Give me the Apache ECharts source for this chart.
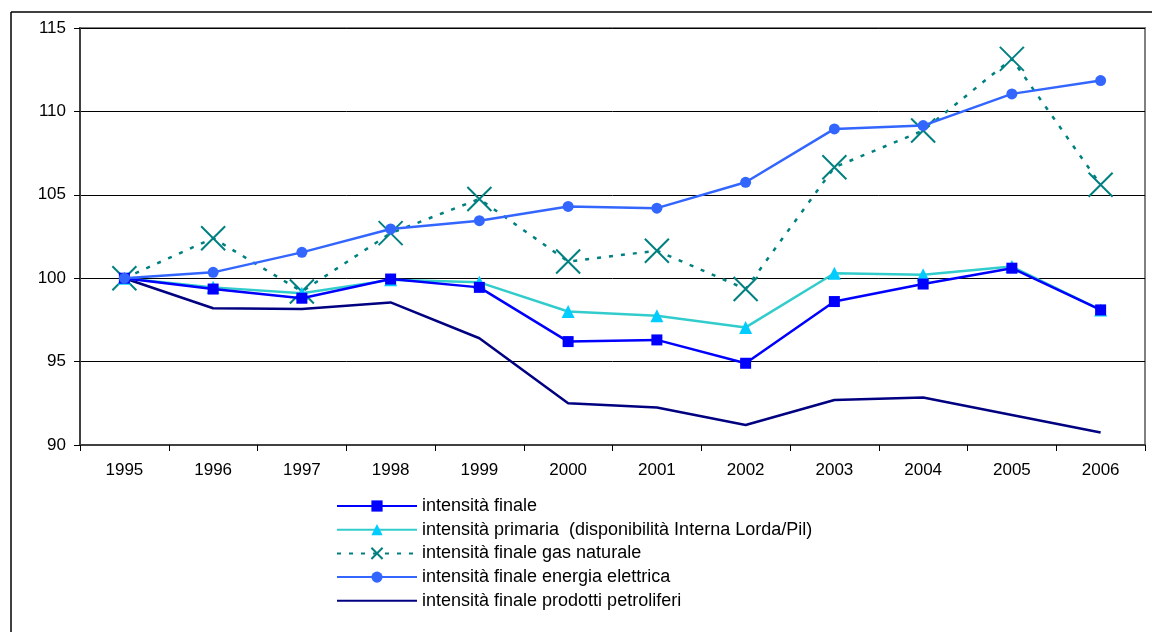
<!DOCTYPE html>
<html>
<head>
<meta charset="utf-8">
<script src="https://cdn.jsdelivr.net/npm/echarts@6/dist/echarts.min.js"></script>
<style>
  html, body { margin: 0; padding: 0; background: #fff; }
  #chart { width: 1152px; height: 632px; }
</style>
</head>
<body>
<div id="chart"></div>
<script>
// Years on the category axis
const years = ['1995', '1996', '1997', '1998', '1999', '2000', '2001', '2002', '2003', '2004', '2005', '2006'];

// Index values (1995 = 100)
const intensitaFinale = [100, 99.35, 98.8, 99.95, 99.45, 96.2, 96.3, 94.9, 98.6, 99.65, 100.6, 98.1];
const intensitaPrimaria = [100, 99.45, 99.1, 99.9, 99.75, 98.0, 97.75, 97.05, 100.3, 100.2, 100.7, 98.1];
const gasNaturale = [100, 102.4, 99.2, 102.7, 104.75, 101.0, 101.65, 99.35, 106.65, 108.85, 113.15, 105.6];
const energiaElettrica = [100, 100.35, 101.55, 102.95, 103.45, 104.3, 104.2, 105.75, 108.95, 109.15, 111.05, 111.85];
const prodottiPetroliferi = [100, 98.2, 98.15, 98.55, 96.4, 92.5, 92.25, 91.2, 92.7, 92.85, 91.8, 90.75];

// Y axis range and step
const yMin = 90, yMax = 115, yStep = 5;

const seriesNames = [
  'intensità finale',
  'intensità primaria  (disponibilità Interna Lorda/Pil)',
  'intensità finale gas naturale',
  'intensità finale energia elettrica',
  'intensità finale prodotti petroliferi'
];

const crossPath = 'path://M0,0L10,10M10,0L0,10';

const chart = echarts.init(document.getElementById('chart'), null, { renderer: 'canvas' });

const font = 'Liberation Sans, Arial, sans-serif';

chart.setOption({
  animation: false,
  backgroundColor: '#ffffff',
  textStyle: { fontFamily: font },
  grid: {
    left: 80, top: 28, right: 7, bottom: 187,
    show: true, borderColor: '#808080', borderWidth: 2, backgroundColor: 'transparent'
  },
  legend: {
    orient: 'vertical',
    left: 336, top: 497,
    padding: 0,
    itemWidth: 80, itemHeight: 14, itemGap: 5.7,
    textStyle: { fontFamily: font, fontSize: 18, lineHeight: 18, color: '#000' },
    data: [
      seriesNames[0],
      seriesNames[1],
      seriesNames[2],
      seriesNames[3],
      { name: seriesNames[4], itemStyle: { opacity: 0 } }
    ],
    selectedMode: false
  },
  xAxis: {
    type: 'category',
    data: years,
    boundaryGap: true,
    axisLine: { lineStyle: { color: '#404040', width: 2 } },
    axisTick: { show: true, alignWithLabel: false, length: 6, lineStyle: { color: '#000', width: 1 } },
    axisLabel: { color: '#000', fontSize: 17, fontFamily: font, margin: 17 },
    splitLine: { show: false }
  },
  yAxis: {
    type: 'value',
    min: yMin, max: yMax, interval: yStep,
    axisLine: { show: true, lineStyle: { color: '#404040', width: 2 } },
    axisTick: { show: true, length: 6, inside: false, lineStyle: { color: '#000', width: 1 } },
    axisLabel: { color: '#000', fontSize: 17, fontFamily: font, margin: 14 },
    splitLine: { show: true, lineStyle: { color: '#000', width: 1 } }
  },
  graphic: [
    { type: 'line', shape: { x1: 11, y1: 12, x2: 1152, y2: 12 }, style: { stroke: '#000', lineWidth: 1.5 }, silent: true },
    { type: 'line', shape: { x1: 11, y1: 12, x2: 11, y2: 632 }, style: { stroke: '#000', lineWidth: 1.5 }, silent: true }
  ],
  series: [
    {
      name: seriesNames[4], type: 'line', data: prodottiPetroliferi,
      symbol: 'none', showSymbol: false,
      lineStyle: { color: '#000080', width: 2.5 },
      itemStyle: { color: '#000080' },
      z: 2
    },
    {
      name: seriesNames[2], type: 'line', data: gasNaturale,
      symbol: crossPath, symbolSize: 24,
      lineStyle: { color: '#008080', width: 2.5, type: [4, 8] },
      itemStyle: { color: 'transparent', borderColor: '#008080', borderWidth: 2 },
      z: 3
    },
    {
      name: seriesNames[1], type: 'line', data: intensitaPrimaria,
      symbol: 'triangle', symbolSize: 13,
      lineStyle: { color: '#33CCCC', width: 2.5 },
      itemStyle: { color: '#00CCFF' },
      z: 4
    },
    {
      name: seriesNames[0], type: 'line', data: intensitaFinale,
      symbol: 'rect', symbolSize: 11,
      lineStyle: { color: '#0000FF', width: 2.5 },
      itemStyle: { color: '#0000FF' },
      z: 5
    },
    {
      name: seriesNames[3], type: 'line', data: energiaElettrica,
      symbol: 'circle', symbolSize: 11,
      lineStyle: { color: '#3366FF', width: 2.5 },
      itemStyle: { color: '#3366FF' },
      z: 6
    }
  ]
});
</script>
</body>
</html>
